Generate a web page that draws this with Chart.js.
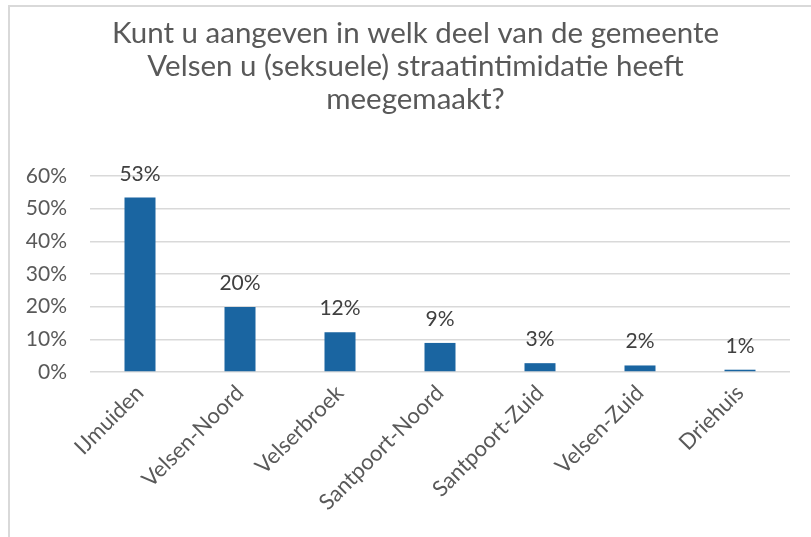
<!DOCTYPE html>
<html>
<head>
<meta charset="utf-8">
<script src="https://cdn.jsdelivr.net/npm/chart.js@4/dist/chart.umd.min.js"></script>
<style>
  html, body { margin: 0; padding: 0; background: #fff; overflow: hidden; width: 811px; height: 537px; }
  #frame { position: absolute; left: 8px; top: 5px; width: 813px; height: 540px;
           border-left: 2px solid #d9d9d9; border-top: 2px solid #d9d9d9; }
  canvas { display: block; }
</style>
</head>
<body>
<div id="frame"><canvas id="c" width="811" height="530"></canvas></div>
<script>
const titleLines = [
  "Kunt u aangeven in welk deel van de gemeente",
  "Velsen u (seksuele) straatintimidatie heeft",
  "meegemaakt?"
];
const categories = ["IJmuiden", "Velsen-Noord", "Velserbroek", "Santpoort-Noord", "Santpoort-Zuid", "Velsen-Zuid", "Driehuis"];
const percentages = [53.4, 19.9, 12.2, 8.9, 2.7, 2.0, 0.7];
const yTicks = [0, 10, 20, 30, 40, 50, 60];

const FONT = "Lato, 'Open Sans', sans-serif";

const dataLabels = {
  id: 'dataLabels',
  afterDatasetsDraw(chart) {
    const ctx = chart.ctx;
    const meta = chart.getDatasetMeta(0);
    ctx.save();
    ctx.font = "21px " + FONT;
    ctx.fillStyle = "#404040";
    ctx.textAlign = "center";
    ctx.textBaseline = "alphabetic";
    meta.data.forEach((bar, i) => {
      ctx.fillText(Math.round(percentages[i]) + "%", bar.x, bar.y - 17);
    });
    ctx.restore();
  }
};

new Chart(document.getElementById('c'), {
  type: 'bar',
  data: {
    labels: categories,
    datasets: [{
      data: percentages,
      backgroundColor: '#1a65a1',
      borderWidth: 0,
      categoryPercentage: 1.0,
      barPercentage: 0.31
    }]
  },
  options: {
    responsive: false,
    animation: false,
    layout: { padding: { left: 0, right: 0, top: 0, bottom: 0 } },
    plugins: {
      legend: { display: false },
      tooltip: { enabled: false },
      title: {
        display: true,
        text: titleLines,
        color: '#595959',
        font: { family: FONT, size: 29.5, weight: 'normal', lineHeight: '33px' },
        padding: { top: 10, bottom: 60 }
      }
    },
    scales: {
      x: {
        grid: { display: false, drawTicks: false },
        border: { display: false },
        ticks: {
          color: '#595959',
          font: { family: FONT, size: 22 },
          minRotation: 45,
          maxRotation: 45,
          autoSkip: false,
          padding: 8
        },
        afterFit(scale) { scale.height = 165; }
      },
      y: {
        min: 0,
        max: 60,
        afterBuildTicks(scale) { scale.ticks = yTicks.map(v => ({ value: v })); },
        grid: { color: '#d9d9d9', lineWidth: 1.5, drawTicks: false },
        border: { display: false },
        ticks: {
          color: '#595959',
          font: { family: FONT, size: 21 },
          padding: 23,
          callback: v => v + '%'
        },
        afterFit(scale) { scale.width = 80; }
      },
      spacer: {
        position: 'right',
        display: true,
        min: 0,
        max: 60,
        grid: { display: false, drawTicks: false },
        border: { display: false },
        ticks: { display: false },
        afterFit(scale) { scale.width = 31; }
      }
    }
  },
  plugins: [dataLabels]
});
</script>
</body>
</html>
